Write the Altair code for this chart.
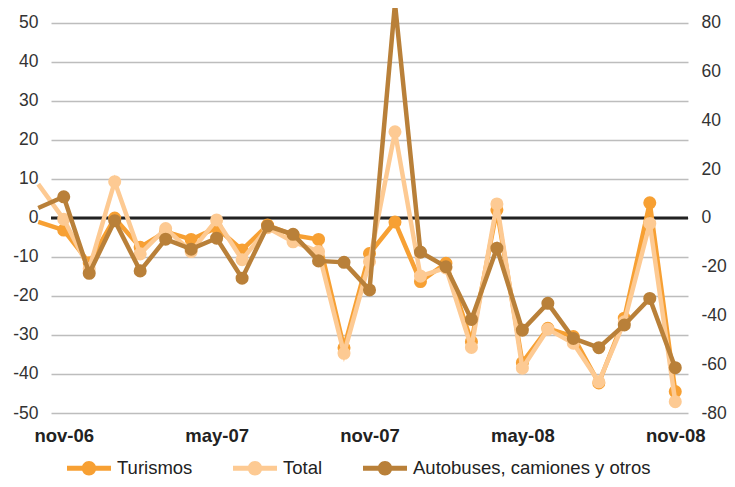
import altair as alt
import pandas as pd

months = ["oct-06", "nov-06", "dic-06", "ene-07", "feb-07", "mar-07", "abr-07", "may-07",
          "jun-07", "jul-07", "ago-07", "sep-07", "oct-07", "nov-07", "dic-07", "ene-08",
          "feb-08", "mar-08", "abr-08", "may-08", "jun-08", "jul-08", "ago-08", "sep-08",
          "oct-08", "nov-08"]
turismos = [-1.0, -3.1, -11.5, 0.0, -7.5, -3.5, -5.5, -2.5, -8.2, -1.8, -4.4, -5.5, -33.3,
            -9.1, -1.0, -16.3, -11.6, -31.7, 2.1, -37.1, -28.3, -30.4, -42.3, -25.7, 3.9, -44.5]
total = [8.7, -0.3, -13.0, 9.3, -9.2, -2.7, -8.6, -0.5, -10.7, -2.5, -6.1, -8.6, -34.7,
         -11.2, 22.1, -14.9, -12.8, -33.2, 3.6, -38.5, -28.5, -32.1, -42.0, -26.6, -1.4, -47.1]
autobuses = [4.1, 8.7, -22.7, -1.1, -21.7, -8.7, -12.8, -8.3, -24.7, -3.3, -6.7, -17.6, -18.2,
             -29.5, 88.0, -14.0, -20.0, -41.6, -12.4, -46.0, -35.0, -49.4, -53.2, -43.9, -33.0, -61.4]

tick_labels = ["nov-06", "may-07", "nov-07", "may-08", "nov-08"]
left_ticks = [-50, -40, -30, -20, -10, 0, 10, 20, 30, 40, 50]
right_ticks = [-80, -60, -40, -20, 0, 20, 40, 60, 80]

series_names = ["Turismos", "Total", "Autobuses, camiones y otros"]
colors = ["#F7A033", "#FDCA93", "#B98039"]

idx = list(range(len(months)))
df_t = pd.DataFrame({"i": idx, "mes": months, "v": turismos, "serie": series_names[0]})
df_to = pd.DataFrame({"i": idx, "mes": months, "v": total, "serie": series_names[1]})
df_a = pd.DataFrame({"i": idx, "mes": months, "v": autobuses, "serie": series_names[2]})

FONT = "Liberation Sans"

x_axis = alt.Axis(values=[1, 7, 13, 19, 25],
                  labelExpr="['" + "','".join(tick_labels) + "'][(datum.value-1)/6]",
                  title=None, ticks=False, tickSize=0, domain=False, grid=False,
                  labelFontWeight="bold", labelFontSize=18.5, labelColor="#222222",
                  labelPadding=13, labelFont=FONT)
x_scale = alt.Scale(domain=[0.5, 25.5], nice=False, zero=False)

left_scale = alt.Scale(domain=[-50, 52.82], nice=False, zero=False)
right_scale = alt.Scale(domain=[-80, 84.5], nice=False, zero=False)

color_scale = alt.Scale(domain=series_names, range=colors)

legend_path = ("M-1,-0.115 L-0.3,-0.115 L-0.3,0.115 L-1,0.115 Z "
               "M0.3,-0.115 L1,-0.115 L1,0.115 L0.3,0.115 Z "
               "M0.33,0 A0.33,0.33 0 1,1 -0.33,0 A0.33,0.33 0 1,1 0.33,0 Z")

legend = alt.Legend(title=None, orient="none", legendX=16, legendY=434,
                    direction="horizontal", symbolType=legend_path, symbolSize=1936,
                    symbolStrokeWidth=0, symbolOpacity=1, labelFontSize=18.5,
                    labelFont=FONT, labelColor="#222222", labelOffset=6,
                    labelLimit=500, columnPadding=40, padding=0)

left_axis = alt.Axis(values=left_ticks, title=None, orient="left", ticks=False, domain=False,
                     grid=True, gridColor="#BDBDBD", gridWidth=1.5, labelFontSize=17.5,
                     labelColor="#333333", labelPadding=13, labelFont=FONT,
                     labelExpr="'' + datum.value")
right_axis = alt.Axis(values=right_ticks, title=None, orient="right", ticks=False, domain=False,
                      grid=False, labelFontSize=17.5, labelColor="#333333", labelPadding=13,
                      labelFont=FONT, labelExpr="'' + datum.value")


def series_layers(df, scale, axis, color):
    x_enc = alt.X("i:Q", scale=x_scale, axis=x_axis)
    y_enc = alt.Y("v:Q", scale=scale, axis=axis)
    line = alt.Chart(df).mark_line(strokeWidth=4.5, clip=False, strokeJoin="miter",
                                   color=color).encode(x=x_enc, y=y_enc, order="i:Q")
    pts = alt.Chart(df).mark_point(filled=True, size=170, opacity=1, clip=True).encode(
        x=x_enc, y=y_enc,
        color=alt.Color("serie:N", scale=color_scale, legend=legend))
    return [line, pts]


zero = alt.Chart(pd.DataFrame({"z": [0]})).mark_rule(color="#222222", strokeWidth=3).encode(
    y=alt.Y("z:Q", scale=left_scale, axis=left_axis))

left = alt.layer(zero,
                 *series_layers(df_t, left_scale, left_axis, colors[0]),
                 *series_layers(df_to, left_scale, left_axis, colors[1]))
right = alt.layer(*series_layers(df_a, right_scale, right_axis, colors[2]))

chart = alt.layer(left, right).resolve_scale(y="independent").properties(
    width=637, height=401,
    autosize=alt.AutoSizeParams(type="none"),
    padding={"left": 43, "top": 4, "right": 39, "bottom": 66},
).configure(font=FONT).configure_view(stroke=None)

chart.save("out.html", embed_options={"renderer": "svg", "actions": False})
